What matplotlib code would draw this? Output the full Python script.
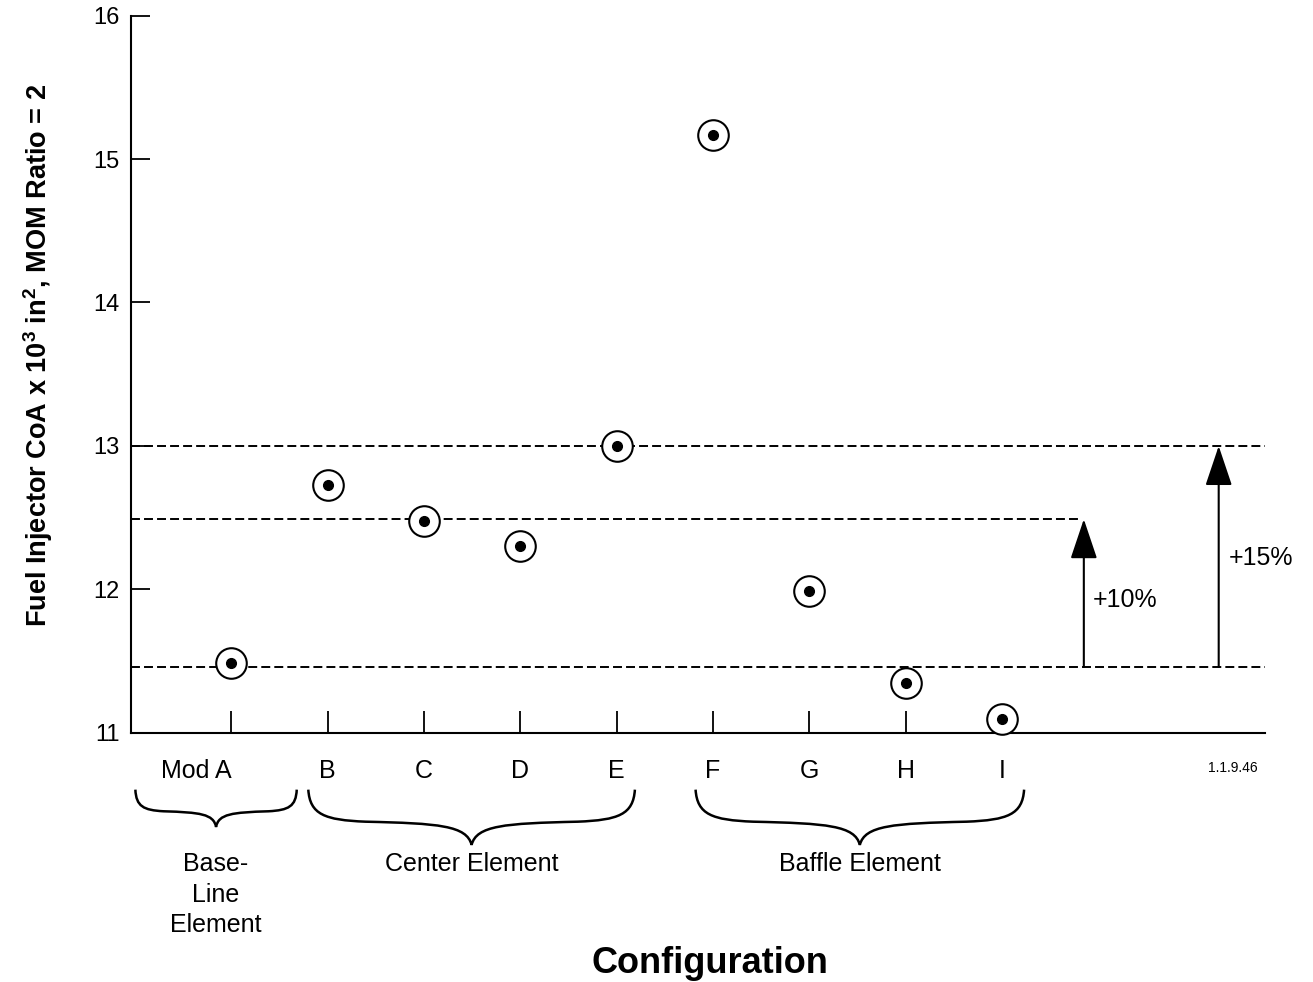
import numpy as np
import matplotlib.pyplot as plt
import matplotlib.transforms as mtransforms
from matplotlib.path import Path
from matplotlib.patches import PathPatch

plt.rcParams['font.family'] = ['Liberation Sans', 'DejaVu Sans']
plt.rcParams['mathtext.fontset'] = 'custom'
plt.rcParams['mathtext.rm'] = 'Liberation Sans'
plt.rcParams['mathtext.bf'] = 'Liberation Sans:bold'
plt.rcParams['mathtext.default'] = 'bf'

# datos
configs = ['Mod A', 'B', 'C', 'D', 'E', 'F', 'G', 'H', 'I']
coa = [11.49, 12.73, 12.48, 12.30, 13.00, 15.17, 11.99, 11.35, 11.10]
groups = ['Base-\nLine\nElement', 'Center Element', 'Baffle Element']
y_ticks = [11, 12, 13, 14, 15, 16]
baseline_level = 11.46
limit_10 = 12.49
limit_15 = 13.0


def draw_brace(ax, x0, x1, y_top, depth, lw=1.8):
    # llave horizontal: x en datos, y en fraccion de ejes
    trans = mtransforms.blended_transform_factory(ax.transData, ax.transAxes)
    xc = (x0 + x1) / 2
    w = xc - x0
    yt = y_top
    ym = yt - 0.55 * depth
    yb = yt - depth
    verts = [
        (x0, yt),
        (x0 + 0.01 * w, yt - 0.45 * depth), (x0 + 0.1 * w, ym), (x0 + 0.35 * w, ym - 0.03 * depth),
        (x0 + 0.8 * w, ym - 0.06 * depth), (xc - 0.03 * w, ym - 0.1 * depth), (xc, yb),
        (xc + 0.03 * w, ym - 0.1 * depth), (x1 - 0.8 * w, ym - 0.06 * depth), (x1 - 0.35 * w, ym - 0.03 * depth),
        (x1 - 0.1 * w, ym), (x1 - 0.01 * w, yt - 0.45 * depth), (x1, yt),
    ]
    codes = [Path.MOVETO] + [Path.CURVE4] * 12
    patch = PathPatch(Path(verts, codes), fill=False, lw=lw, color='black',
                      transform=trans, clip_on=False)
    ax.add_patch(patch)


fig = plt.figure(figsize=(13.13, 9.82), dpi=100)
ax = fig.add_axes([0.0998, 0.2536, 0.8636, 0.7306])

x = np.arange(1, len(configs) + 1)

# lineas de referencia discontinuas
dash = (0, (4.6, 2.1))
ax.hlines([baseline_level, limit_15], -0.04, 11.73, colors='black', lw=1.4, linestyles=dash)
ax.hlines(limit_10, -0.04, 9.83, colors='black', lw=1.4, linestyles=dash)

# puntos: circulo abierto con punto central
ax.plot(x, coa, 'o', ms=22, mfc='white', mec='black', mew=1.5, zorder=3, clip_on=False)
ax.plot(x, coa, 'o', ms=7, color='black', zorder=4, clip_on=False)

# flechas +10% y +15%
arrow_style = dict(arrowstyle='-|>,head_length=1.25,head_width=0.42', mutation_scale=20,
                   lw=1.5, color='black', shrinkA=0, shrinkB=0)
ax.annotate('', xy=(9.85, limit_10), xytext=(9.85, baseline_level), arrowprops=arrow_style)
ax.annotate('', xy=(11.25, limit_15), xytext=(11.25, baseline_level), arrowprops=arrow_style)
ax.text(9.94, 11.93, '+10%', fontsize=18, va='center', ha='left')
ax.text(11.35, 12.22, '+15%', fontsize=18, va='center', ha='left')

ax.set_xlim(-0.04, 11.73)
ax.set_ylim(11, 16)
ax.spines['top'].set_visible(False)
ax.spines['right'].set_visible(False)
ax.spines['left'].set_linewidth(1.5)
ax.spines['bottom'].set_linewidth(1.5)

ax.set_xticks(x, configs)
ax.get_xticklabels()[0].set_ha('right')
ax.tick_params(axis='x', direction='in', length=16, width=1.3, pad=19, labelsize=18)
ax.set_yticks(y_ticks)
ax.tick_params(axis='y', direction='in', length=14, width=1.3, pad=8, labelsize=17)

ax.set_ylabel('Fuel Injector CoA x 10$^3$ in$^2$, MOM Ratio = 2', fontsize=19.5,
              fontweight='bold', va='center')
ax.yaxis.set_label_coords(-0.082, 0.527)
ax.set_xlabel('Configuration', fontsize=26, fontweight='bold')
ax.xaxis.set_label_coords(0.5106, -0.297)

# llaves y nombres de grupo
trans = mtransforms.blended_transform_factory(ax.transData, ax.transAxes)
brace_spans = [(0.005, 1.68), (1.80, 5.19), (5.82, 9.23)]
brace_depths = [0.052, 0.077, 0.077]
for (x0, x1), d, name in zip(brace_spans, brace_depths, groups):
    draw_brace(ax, x0, x1, -0.079, d)
    ax.text((x0 + x1) / 2, -0.166, name, transform=trans, ha='center', va='top',
            fontsize=18, linespacing=1.35, multialignment='center')

ax.text(11.4, -0.049, '1.1.9.46', transform=trans, ha='center', va='center', fontsize=10)

fig.savefig('out.png', dpi=100)
